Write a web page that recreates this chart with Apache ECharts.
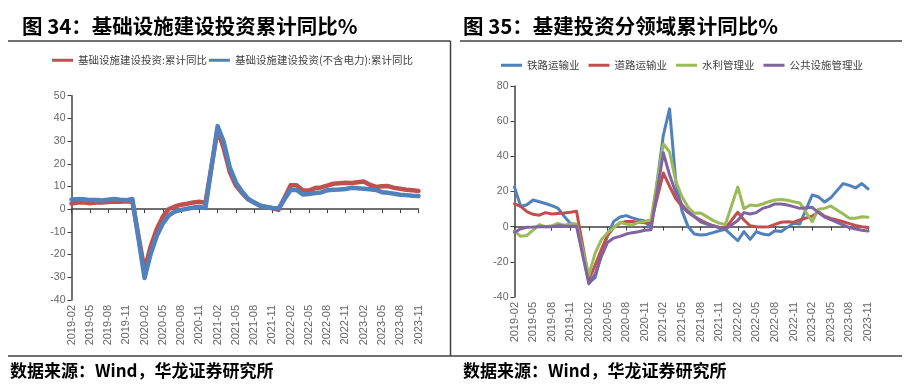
<!DOCTYPE html>
<html>
<head>
<meta charset="utf-8">
<script src="https://cdn.jsdelivr.net/npm/echarts@6/dist/echarts.min.js"></script>
<style>
html,body{margin:0;padding:0;background:#fff;}
#chart{width:919px;height:385px;}
</style>
</head>
<body>
<div id="chart"></div>
<script>
// ---- categories (monthly; January has no cumulative figure -> null) ----
const months = [
 '2019-02','2019-03','2019-04','2019-05','2019-06','2019-07','2019-08','2019-09','2019-10','2019-11','2019-12',
 '2020-01','2020-02','2020-03','2020-04','2020-05','2020-06','2020-07','2020-08','2020-09','2020-10','2020-11','2020-12',
 '2021-01','2021-02','2021-03','2021-04','2021-05','2021-06','2021-07','2021-08','2021-09','2021-10','2021-11','2021-12',
 '2022-01','2022-02','2022-03','2022-04','2022-05','2022-06','2022-07','2022-08','2022-09','2022-10','2022-11','2022-12',
 '2023-01','2023-02','2023-03','2023-04','2023-05','2023-06','2023-07','2023-08','2023-09','2023-10','2023-11'
];

// ---- 图34 ----
const leftNames = ['基础设施建设投资:累计同比', '基础设施建设投资(不含电力):累计同比'];
const infraAll = [
 2.5,2.95,3.0,2.6,2.95,3.0,3.2,3.4,3.3,3.5,3.3, null,
 -26.9,-16.4,-8.8,-3.3,0.1,1.2,2.0,2.4,3.0,3.3,2.8, null,
 35.0,26.8,16.4,10.4,7.2,4.4,2.9,1.5,1.0,0.4,-0.3, null,
 10.5,10.5,8.3,8.2,9.3,9.6,10.4,11.2,11.4,11.6,11.5, null,
 12.2,10.8,9.8,10.1,10.2,9.4,9.0,8.6,8.3,8.0
];
const infraExPower = [
 4.3,4.4,4.4,4.0,4.1,3.8,4.2,4.5,4.2,4.0,4.5, null,
 -30.3,-19.7,-11.8,-6.3,-2.7,-1.0,-0.3,0.2,0.7,1.0,0.5, null,
 36.6,29.7,18.4,11.8,7.8,4.6,2.9,1.5,1.0,0.5,0.3, null,
 8.6,8.5,6.5,6.7,7.1,7.4,8.3,8.6,8.7,8.9,9.4, null,
 9.0,8.8,8.5,7.5,7.2,6.8,6.4,6.2,5.9,5.8
];

// ---- 图35 ----
const rightNames = ['铁路运输业', '道路运输业', '水利管理业', '公共设施管理业'];
const railway = [
 22.5,11.5,12.5,15.2,14.2,13.2,12.0,10.5,6.0,1.8,1.3, null,
 -32,-29,-16,-5,3,5.5,6.3,5,4,3.2,-1, null,
 52,67,26,9,0,-4.2,-4.7,-4.4,-3.4,-2.3,-1.5, null,
 -8,-2.8,-7.2,-2.8,-4.2,-4.7,-2.3,-2.8,-0.4,1.9,1.5, null,
 18,17,14,16.5,20.5,24.5,23.5,22,24.5,21.5
];
const road = [
 13,11.5,8.5,7,6.5,8,7.2,7.5,7.8,8.2,8.8, null,
 -30,-22,-13,-5,-0.5,2,3,3,2.5,2.2,2, null,
 30.5,23,16,11.5,8,5.7,3.8,2,0.5,-0.5,-1, null,
 8.2,3.8,0.5,0,-0.2,0,1.3,2.5,2.8,2.5,3.8, null,
 6,8.5,6,4.7,3.8,2.8,1.7,0.7,0,-0.5
];
const water = [
 -2.5,-5.5,-5,-2,1.2,0,0.5,1.8,0.8,1.5,1.5, null,
 -27.5,-15,-7.5,-3.5,-0.5,2.5,1.5,1,2.5,3,4, null,
 47,42.5,26,17,11,7.6,7.8,5.7,3.6,2,1.2, null,
 22.6,10.2,12.3,11.9,12.9,14.2,15.2,15.5,15.0,14.2,13.5, null,
 2.8,9.9,10.4,11.8,9.5,7.2,4.8,4.8,5.6,5.3
];
const publicFac = [
 -3.3,-1.2,-0.3,-0.2,0,0,0,0.6,0.4,0.3,0.3, null,
 -32.5,-27,-17,-9,-6.5,-5.5,-4.2,-3.4,-2.9,-2,-1.8, null,
 42,29.5,19.5,12.5,8.5,5.7,2.8,1.5,0.6,-0.5,-1.5, null,
 3.5,8,7.2,8,10.4,11.4,12.9,12.9,12.3,11.4,10.4, null,
 11,8,5.5,4,2.5,1,-0.5,-1.3,-2,-2.5
];

const leftY = {min:-40, max:50, interval:10};
const rightY = {min:-40, max:80, interval:20};

const leftColors = ['#C0504D', '#4F81BD'];
const rightColors = ['#4F81BD', '#C0504D', '#9BBB59', '#8064A2'];

const axisColor = '#404040';
const labelColor = '#666666';
const numFont = 'Liberation Sans, Arial, sans-serif';
const cjkFont = '"Noto Sans CJK SC", sans-serif';

function xAxisCfg(gridIndex){
  return {
    type:'category', gridIndex, data: months, boundaryGap:false,
    axisLine:{lineStyle:{color:axisColor, width:1.5}},
    axisTick:{interval:2, length:4, lineStyle:{color:axisColor, width:1}},
    axisLabel:{interval:2, rotate:90, color:labelColor, fontSize:11, fontFamily:numFont, margin:5},
    splitLine:{show:false}
  };
}
function yAxisCfg(gridIndex, r){
  return {
    type:'value', gridIndex, min:r.min, max:r.max, interval:r.interval,
    axisLine:{show:true, lineStyle:{color:axisColor, width:1.5}},
    axisTick:{show:true, length:4, lineStyle:{color:axisColor, width:1}},
    axisLabel:{color:labelColor, fontSize:10.5, fontFamily:numFont, margin:6},
    splitLine:{show:false}
  };
}
function lineSeries(name, data, color, idx, width){
  return {
    name, type:'line', data, xAxisIndex:idx, yAxisIndex:idx,
    showSymbol:false, symbol:'none', connectNulls:true, smooth:false,
    lineStyle:{color, width, cap:'round', join:'round'},
    itemStyle:{color}, z: 2
  };
}

const chart = echarts.init(document.getElementById('chart'), null, {renderer:'canvas'});

const lineEl = (x1,y1,x2,y2) => ({type:'line', shape:{x1,y1,x2,y2}, style:{stroke:'#404040', lineWidth:1.5}, silent:true});
const textEl = (x,y,text,size) => ({type:'text', x, y, style:{text, fill:'#000', font:'bold '+size+'px '+cjkFont, textVerticalAlign:'middle', textAlign:'left'}, silent:true});

chart.setOption({
  animation:false,
  backgroundColor:'#fff',
  legend:[
    {data:leftNames, left:52, top:55, padding:0, itemGap:2, itemWidth:21, itemHeight:3, icon:'rect',
     textStyle:{fontSize:10.5, color:'#404040', fontFamily:cjkFont}},
    {data:rightNames, left:501, top:60, padding:0, itemGap:9, itemWidth:21, itemHeight:3, icon:'rect',
     textStyle:{fontSize:10.5, color:'#404040', fontFamily:cjkFont}}
  ],
  grid:[
    {left:71.5, top:95.7, width:347, height:204.3},
    {left:514.5, top:86, width:353.5, height:211}
  ],
  xAxis:[xAxisCfg(0), xAxisCfg(1)],
  yAxis:[yAxisCfg(0,leftY), yAxisCfg(1,rightY)],
  series:[
    lineSeries(leftNames[0], infraAll, leftColors[0], 0, 4.5),
    lineSeries(leftNames[1], infraExPower, leftColors[1], 0, 4.5),
    lineSeries(rightNames[0], railway, rightColors[0], 1, 3),
    lineSeries(rightNames[1], road, rightColors[1], 1, 3),
    lineSeries(rightNames[2], water, rightColors[2], 1, 3),
    lineSeries(rightNames[3], publicFac, rightColors[3], 1, 3)
  ],
  graphic:[
    textEl(22, 26, '图 34：基础设施建设投资累计同比%', 20.5),
    textEl(463, 26, '图 35：基建投资分领域累计同比%', 20.5),
    lineEl(8, 41, 450.5, 41),
    lineEl(460, 41, 902, 41),
    lineEl(450.5, 41, 450.5, 356),
    lineEl(8, 356, 902, 356),
    textEl(10, 371, '数据来源：Wind，华龙证券研究所', 17),
    textEl(463, 371, '数据来源：Wind，华龙证券研究所', 17)
  ]
});
</script>
</body>
</html>
